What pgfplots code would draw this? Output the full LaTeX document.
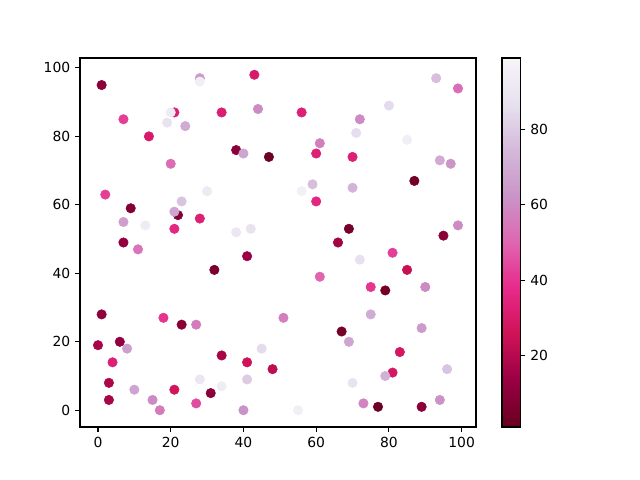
\documentclass[border=0pt]{standalone}
\usepackage{fontspec}
\setmainfont{DejaVu Sans}
\usepackage{pgfplots}
\pgfplotsset{compat=1.18}

% PuRd reversed
\pgfplotsset{colormap={purdr}{rgb255=(103,0,31) rgb255=(152,0,67) rgb255=(206,18,86)
  rgb255=(231,41,138) rgb255=(223,101,176) rgb255=(201,148,199) rgb255=(212,185,218)
  rgb255=(231,225,239) rgb255=(247,244,249)}}

\begin{document}
\begin{tikzpicture}
\path[use as bounding box] (-57.6pt,-38.16pt) rectangle ++(460.8pt,345.6pt);
\begin{axis}[
    at={(0,0)}, anchor=south west,
    scale only axis,
    width=285.12pt, height=265.68pt,
    xmin=-4.95, xmax=103.95,
    ymin=-4.9, ymax=102.9,
    xtick={0,20,40,60,80,100},
    ytick={0,20,40,60,80,100},
    tick align=outside, tick pos=left,
    major tick length=3.5pt,
    every tick/.style={black, line width=0.8pt},
    axis line style={line width=0.8pt},
    /pgf/number format/assume math mode=true,
    colormap name=purdr,
    point meta min=1, point meta max=99,
    colorbar,
    colorbar style={
        at={(parent axis.north east)}, anchor=north west, xshift=10.2pt,
        scale only axis, width=13.3pt, height=265.68pt,
        ytick={20,40,60,80},
        tick align=outside, ytick pos=right, yticklabel pos=right,
        major tick length=3.5pt,
        every tick/.style={black, line width=0.8pt},
        axis line style={line width=0.8pt},
        /pgf/number format/assume math mode=true,
    },
]
\addplot[scatter, only marks, mark=*, mark size=3.4pt, scatter src=explicit,
    scatter/use mapped color={draw=mapped color, fill=mapped color}]
table[meta=c] {
x y c
1 95 10
28 97 65
28 96 95
43 98 30
7 85 42
21 87 32
20 87 93
19 84 88
24 83 70
34 87 32
44 88 60
14 80 30
38 76 10
40 75 68
47 74 3
20 72 52
2 63 42
30 64 92
23 61 78
22 57 8
21 58 68
28 56 33
9 59 8
7 55 66
13 54 93
21 53 36
38 52 90
42 53 88
7 49 12
11 47 54
32 41 6
41 45 14
1 28 11
18 27 40
23 25 9
27 25 56
51 27 57
0 19 17
6 20 12
8 18 66
4 14 33
34 16 17
41 14 26
48 12 22
45 18 85
3 8 18
3 3 17
10 6 68
15 3 60
17 0 56
21 6 27
28 9 90
31 5 10
34 7 94
27 2 45
41 9 80
40 0 62
93 97 76
99 94 52
56 87 33
80 89 85
72 85 60
71 81 86
85 79 95
61 78 57
60 75 33
70 74 33
94 73 70
97 72 63
87 67 4
59 66 76
56 64 96
70 65 73
60 61 36
99 54 60
69 53 5
95 51 10
66 49 15
81 46 42
72 44 87
85 41 24
61 39 50
75 36 40
79 35 4
90 36 60
75 28 70
67 23 5
69 20 68
89 24 65
83 17 28
81 11 28
79 10 72
96 12 78
70 8 88
73 2 58
77 1 3
89 1 10
94 3 62
55 0 95
};
\end{axis}
\end{tikzpicture}
\end{document}
